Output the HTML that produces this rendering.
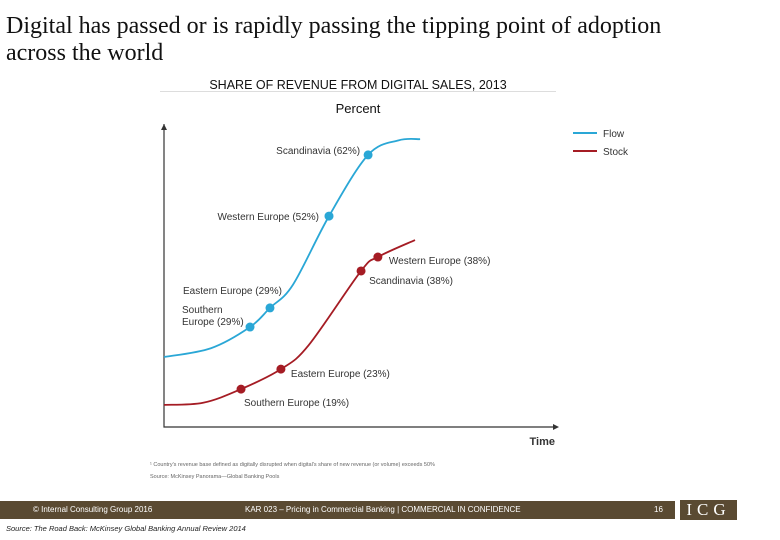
<!DOCTYPE html>
<html><head><meta charset="utf-8"><style>
body{margin:0;width:780px;height:540px;background:#fff;position:relative;overflow:hidden;font-family:"Liberation Sans",sans-serif}
.abs{position:absolute}
</style></head><body>
<div class="abs" style="left:6px;top:13px;font-family:'Liberation Serif',serif;font-size:24px;line-height:27px;color:#111">Digital has passed or is rapidly passing the tipping point of adoption<br>across the world</div>
<svg class="abs" style="left:0;top:0" width="780" height="540">
<text x="358" y="89" text-anchor="middle" font-size="12.5" fill="#111">SHARE OF REVENUE FROM DIGITAL SALES, 2013</text>
<line x1="160" y1="91.5" x2="556" y2="91.5" stroke="#ddd"/>
<text x="358" y="113" text-anchor="middle" font-size="13" fill="#111">Percent</text>
<g id="axes"></g><g id="series"></g>
<g>
<line x1="573" y1="133" x2="597" y2="133" stroke="#2aa7d6" stroke-width="2"/>
<text x="603" y="137" font-size="10" fill="#333">Flow</text>
<line x1="573" y1="151" x2="597" y2="151" stroke="#a51c24" stroke-width="2"/>
<text x="603" y="155" font-size="10" fill="#333">Stock</text>
</g>
<text x="555" y="445" text-anchor="end" font-size="11" font-weight="bold" fill="#333">Time</text>
<text x="150" y="466" font-size="5.5" fill="#666">¹ Country's revenue base defined as digitally disrupted when digital's share of new revenue (or volume) exceeds 50%</text>
<text x="150" y="478" font-size="5.5" fill="#666">Source: McKinsey Panorama—Global Banking Pools</text>
</svg>
<div class="abs" style="left:0;top:501px;width:675px;height:18px;background:#5a4a32;color:#fff;font-size:8px;line-height:18px">
<span class="abs" style="left:33px">© Internal Consulting Group 2016</span>
<span class="abs" style="left:245px">KAR 023 – Pricing in Commercial Banking | COMMERCIAL IN CONFIDENCE</span>
<span class="abs" style="left:654px">16</span>
</div>
<div class="abs" style="left:680px;top:500px;width:57px;height:20px;background:#5a4a32;color:#fff;font-family:'Liberation Serif',serif;font-size:17px;line-height:20px;text-align:center;letter-spacing:5px">ICG</div>
<div class="abs" style="left:6px;top:524px;font-size:7.5px;font-style:italic;color:#222">Source: The Road Back: McKinsey Global Banking Annual Review 2014</div>
<script>
const flowT=[0,12,22,27.1,33,42.2,52.2,60,65.5];
const flowV=[23.1,26,33,39.3,47,69.6,89.8,94.6,95.0];
const stockT=[0,10,19.7,29.9,37,50.4,54.7,64.2];
const stockV=[7.3,8,12.5,19.1,27,51.5,56.1,61.7];
const flowDotT=[22,27.1,42.2,52.2];
const flowDotV=[33,39.3,69.6,89.8];
const flowLabels=["Southern Europe (29%)","Eastern Europe (29%)","Western Europe (52%)","Scandinavia (62%)"];
const stockDotT=[19.7,29.9,50.4,54.7];
const stockDotV=[12.5,19.1,51.5,56.1];
const stockLabels=["Southern Europe (19%)","Eastern Europe (23%)","Scandinavia (38%)","Western Europe (38%)"];
const NS="http://www.w3.org/2000/svg";
const X=t=>164+t/100*391, Y=v=>427-v/100*303;
function mk(tag,at,parent){const e=document.createElementNS(NS,tag);for(const k in at)e.setAttribute(k,at[k]);parent.appendChild(e);return e;}
const axes=document.getElementById('axes'), ser=document.getElementById('series');
let a=mk('path',{d:`M${X(0)},${Y(100)} V${Y(0)} H553`,stroke:'#333','stroke-width':1.2,fill:'none'},axes);


let ah=mk('path',{d:`M${X(0)-3},${Y(100)+6} L${X(0)},${Y(100)} L${X(0)+3},${Y(100)+6}Z M553,${Y(0)-3} L559,${Y(0)} L553,${Y(0)+3}Z`,fill:'#333'},axes);


function curve(T,V){const p=T.map((t,i)=>[X(t),Y(V[i])]);let d=`M${p[0][0]},${p[0][1]}`;
for(let i=0;i<p.length-1;i++){const p0=p[Math.max(i-1,0)],p1=p[i],p2=p[i+1],p3=p[Math.min(i+2,p.length-1)];
d+=` C${p1[0]+(p2[0]-p0[0])/6},${p1[1]+(p2[1]-p0[1])/6} ${p2[0]-(p3[0]-p1[0])/6},${p2[1]-(p3[1]-p1[1])/6} ${p2[0]},${p2[1]}`;}return d;}
let fl=mk('path',{d:curve(flowT,flowV),stroke:'#2aa7d6','stroke-width':1.8,fill:'none'},ser);


let sl=mk('path',{d:curve(stockT,stockV),stroke:'#a51c24','stroke-width':1.8,fill:'none'},ser);


const flowOff=[[-10,-6,'end'],[12,-14,'end'],[-10,4,'end'],[-8,-1,'end']];
const stockOff=[[3,17,'start'],[10,8,'start'],[8,13,'start'],[11,7,'start']];
function dots(T,V,L,off,col,nm){T.forEach((t,i)=>{const cx=X(t),cy=Y(V[i]);
const c=mk('circle',{cx,cy,r:4.5,fill:col},ser);


const o=off[i];
if(nm==='flow'&&i===0){const tx=mk('text',{x:cx-68,y:cy-14,'font-size':10,fill:'#333'},ser);
tx.textContent='Southern';const t2=mk('text',{x:cx-68,y:cy-2,'font-size':10,fill:'#333'},ser);t2.textContent='Europe (29%)';

return;}
const tx=mk('text',{x:cx+o[0],y:cy+o[1],'text-anchor':o[2],'font-size':10,fill:'#333'},ser);
tx.textContent=L[i];

});}
dots(flowDotT,flowDotV,flowLabels,flowOff,'#2aa7d6','flow');
dots(stockDotT,stockDotV,stockLabels,stockOff,'#a51c24','stock');
</script>
</body></html>
